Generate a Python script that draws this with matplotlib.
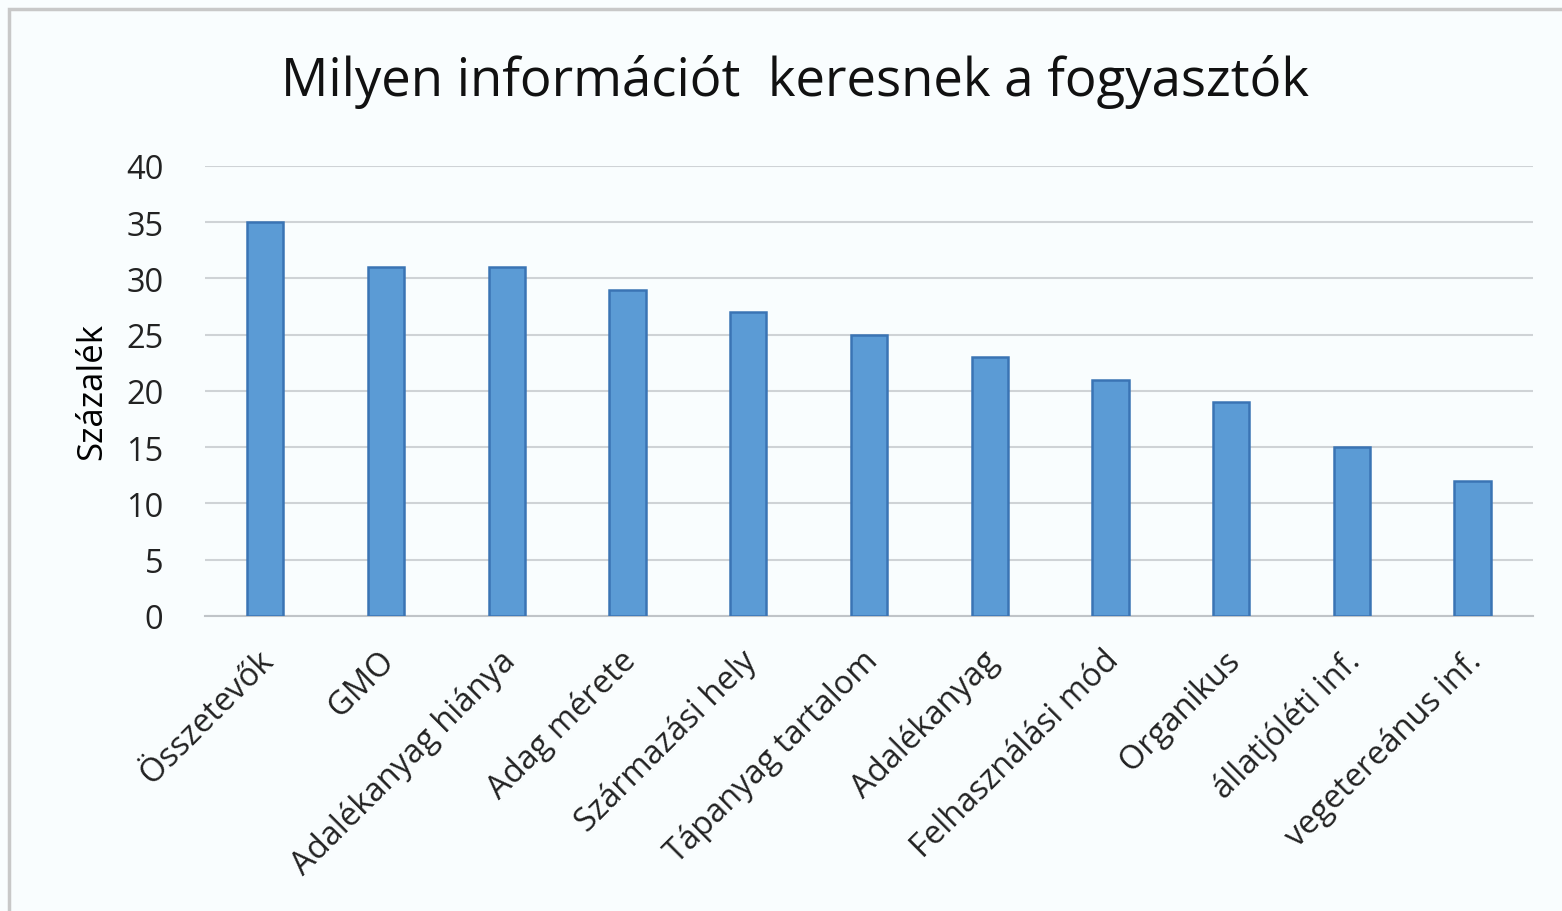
import matplotlib.pyplot as plt
import matplotlib.transforms as mtransforms
from matplotlib.patches import Rectangle

kategoriak = ['Összetevők', 'GMO', 'Adalékanyag hiánya', 'Adag mérete',
              'Származási hely', 'Tápanyag tartalom', 'Adalékanyag',
              'Felhasználási mód', 'Organikus', 'állatjóléti inf.',
              'vegetereánus inf.']
szazalek = [35, 31, 31, 29, 27, 25, 23, 21, 19, 15, 12]
yticks = [0, 5, 10, 15, 20, 25, 30, 35, 40]

plt.rcParams['font.family'] = ['Open Sans', 'DejaVu Sans']

fig = plt.figure(figsize=(15.62, 9.12), dpi=100)
fig.patch.set_facecolor('#f9fdfe')
ax = fig.add_axes([0.1312, 0.3235, 0.8502, 0.4934])
ax.set_facecolor('#f9fdfe')

# keret
fig.patches.append(Rectangle((0.006, -0.01), 1.1, 0.999, transform=fig.transFigure,
                             fill=False, edgecolor='#c8c8c8', linewidth=2.5))

x = range(len(kategoriak))
ax.bar(x, szazalek, width=0.3, color='#5b9bd5', edgecolor='#3a74b4',
       linewidth=1.8, zorder=3)

ax.set_xlim(-0.5, len(kategoriak) - 0.5)
ax.set_ylim(0, 40)
ax.set_yticks(yticks)
ax.grid(axis='y', color='#cfd3d6', linewidth=1.5, zorder=0)
for s in ['top', 'right', 'left']:
    ax.spines[s].set_visible(False)
ax.spines['bottom'].set_color('#c0c4c8')
ax.spines['bottom'].set_linewidth(1.5)
ax.tick_params(axis='both', length=0, labelsize=23.5, colors='#222222')
ax.tick_params(axis='y', pad=30)
ax.set_xticks(list(x))
ax.set_xticklabels(kategoriak, rotation=45, ha='right', rotation_mode='anchor')
ax.tick_params(axis='x', pad=20)
# cimkek kicsit balra
eltolas = mtransforms.ScaledTranslation(-8 / 100, 0, fig.dpi_scale_trans)
for lbl in ax.get_xticklabels():
    lbl.set_transform(lbl.get_transform() + eltolas)
ax.set_ylabel('Százalék', fontsize=25, labelpad=12)

fig.text(0.5087, 0.91, 'Milyen információt  keresnek a fogyasztók',
         ha='center', va='center', fontsize=38, color='#111111')

fig.savefig('out.png', dpi=100, facecolor=fig.get_facecolor())
